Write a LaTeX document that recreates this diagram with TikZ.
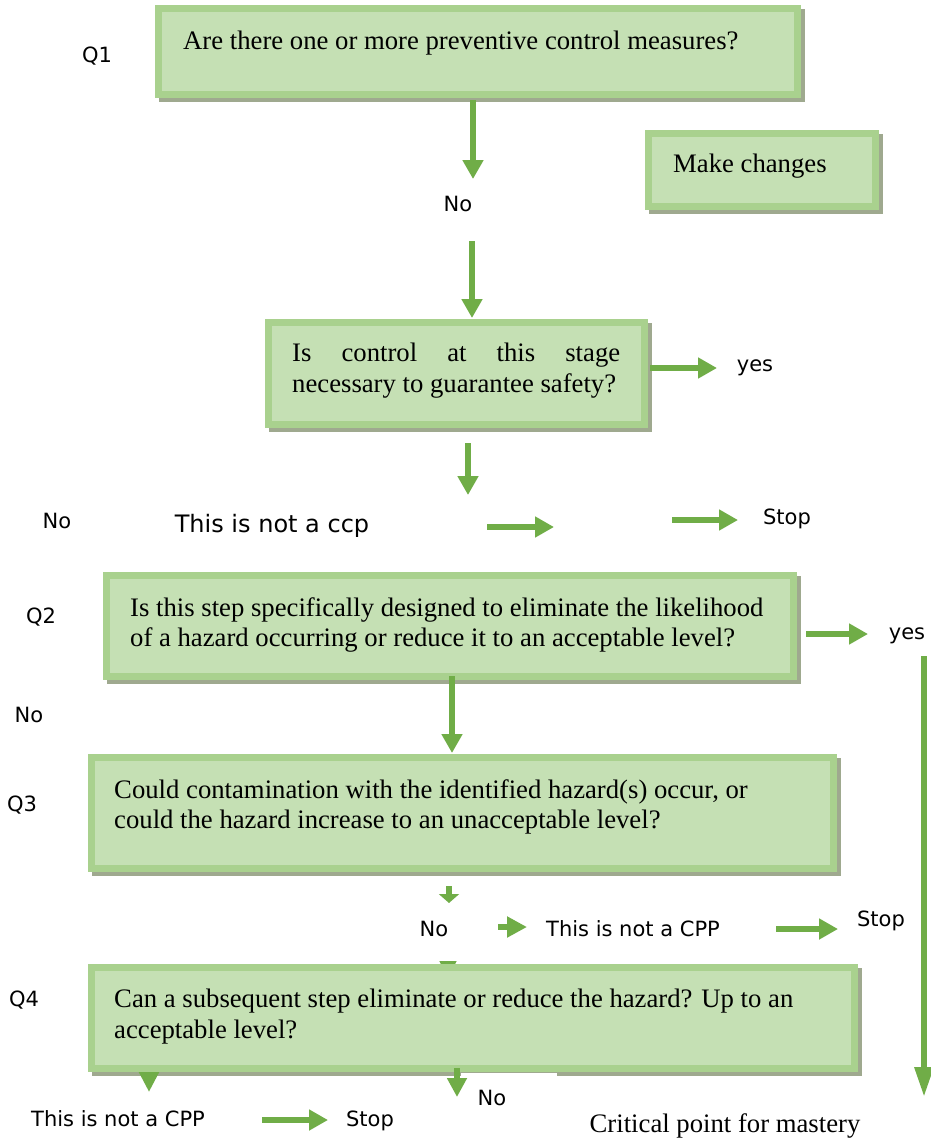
\documentclass[tikz,border=0pt]{standalone}
\usepackage{fontspec}
\setmainfont{Liberation Serif}
\newfontfamily\lblfont{DejaVu Sans}
\usetikzlibrary{arrows.meta,calc}
\definecolor{boxfill}{HTML}{C5E0B4}
\definecolor{boxline}{HTML}{A9D18E}
\definecolor{boxshadow}{HTML}{9FA98F}
\definecolor{arrowgreen}{HTML}{70AD47}
\tikzset{
  qbox/.style={rectangle, draw=boxline, fill=boxfill, line width=7pt, inner sep=0pt,
    preaction={draw=boxshadow, fill=boxshadow, line width=7pt,
      transform canvas={shift={(4pt,-4pt)}}}},
  qtext/.style={inner sep=0pt, align=left, font={\fontsize{26.7}{30.5}\selectfont}},
  lbl/.style={inner sep=0pt, font={\lblfont\fontsize{21}{25}\selectfont}},
  garrow/.style={draw=arrowgreen, line width=6.5pt, -{Triangle[width=20pt,length=19pt]}},
}
\begin{document}
\begin{tikzpicture}[x=1pt,y=-1pt]
\fill[white] (0,0) rectangle (931,1141);
\useasboundingbox (0,0) rectangle (931,1141);

% arrow head partly hidden behind the Q4 box
\coordinate (h1) at (448,961);
\coordinate (h2) at (448,979);
\draw[garrow, -{Triangle[width=16pt,length=18pt]}] (h1) -- (h2);

% boxes
\node[qbox, minimum width=639pt, minimum height=86pt] (b1) at (478,51.5) {};
\node[qbox, minimum width=227pt, minimum height=73pt] (b2) at (762,170) {};
\node[qbox, minimum width=376pt, minimum height=102pt] (b3) at (456.5,373.5) {};
\node[qbox, minimum width=687pt, minimum height=101pt] (b4) at (450,626) {};
\node[qbox, minimum width=742pt, minimum height=111pt] (b5) at (462.5,813) {};
\node[qbox, minimum width=763pt, minimum height=101pt] (b6) at (473,1018) {};
% gap in the Q4 shadow
\fill[white] (461,1072.5) rectangle (557,1079);

% box texts
\node[qtext, anchor=north west] (t1) at (183,31) {Are there one or more preventive control measures?};
\node[qtext, anchor=north west] (t2) at (673,154) {Make changes};
\node[qtext, anchor=north west] (t3) at (292,343) {\makebox[328pt][s]{Is control at this stage}\\necessary to guarantee safety?};
\node[qtext, anchor=north west] (t4) at (130,597) {Is this step specifically designed to eliminate the likelihood\\of a hazard occurring or reduce it to an acceptable level?};
\node[qtext, anchor=north west] (t5) at (114,779) {Could contamination with the identified hazard(s) occur, or\\could the hazard increase to an unacceptable level?};
\node[qtext, anchor=north west] (t6) at (114,989) {Can a subsequent step eliminate or reduce the hazard? Up to an\\acceptable level?};

% labels
\node[lbl, anchor=base] (q1) at (97,62) {Q1};
\node[lbl, anchor=base] (no1) at (458,211) {No};
\node[lbl, anchor=base] (yes1) at (755,371) {yes};
\node[lbl, anchor=base] (no2) at (57,528) {No};
\node[lbl, anchor=base, font={\lblfont\fontsize{24}{28}\selectfont}] (nc1) at (272,532) {This is not a ccp};
\node[lbl, anchor=base] (stop1) at (787,524) {Stop};
\node[lbl, anchor=base] (q2) at (41,623) {Q2};
\node[lbl, anchor=base] (yes2) at (907,639) {yes};
\node[lbl, anchor=base] (no3) at (29,722) {No};
\node[lbl, anchor=base] (q3) at (22,811) {Q3};
\node[lbl, anchor=base] (no4) at (434,936) {No};
\node[lbl, anchor=base] (nc2) at (633,936) {This is not a CPP};
\node[lbl, anchor=base] (stop2) at (881,926) {Stop};
\node[lbl, anchor=base] (q4) at (24,1006) {Q4};
\node[lbl, anchor=base] (no5) at (492,1105) {No};
\node[lbl, anchor=base] (nc3) at (118,1126) {This is not a CPP};
\node[lbl, anchor=base] (stop3) at (370,1126) {Stop};
\node[qtext, anchor=base] (crit) at (725,1132) {Critical point for mastery};

% arrow end points
\coordinate (a1s) at (473,100);  \coordinate (a1e) at (473,179);
\coordinate (a2s) at (472,241);  \coordinate (a2e) at (472,318);
\coordinate (a3s) at (650,368);  \coordinate (a3e) at (717,368);
\coordinate (a4s) at (468,443);  \coordinate (a4e) at (468,495);
\coordinate (a5s) at (487,527);  \coordinate (a5e) at (554,527);
\coordinate (a6s) at (672,520);  \coordinate (a6e) at (738,520);
\coordinate (a7s) at (806,634);  \coordinate (a7e) at (868,634);
\coordinate (a8s) at (924,656);  \coordinate (a8e) at (924,1097);
\coordinate (a9s) at (452,676);  \coordinate (a9e) at (452,753);
\coordinate (a10s) at (449,886); \coordinate (a10e) at (449,903);
\coordinate (a11s) at (498,927); \coordinate (a11e) at (527,927);
\coordinate (a12s) at (776,929); \coordinate (a12e) at (838,929);
\coordinate (a14s) at (149,1072); \coordinate (a14e) at (149,1092);
\coordinate (a15s) at (457,1068); \coordinate (a15e) at (457,1097);
\coordinate (a16s) at (262,1120); \coordinate (a16e) at (328,1120);

\draw[garrow] (a1s) -- (a1e);
\draw[garrow] (a2s) -- (a2e);
\draw[garrow] (a3s) -- (a3e);
\draw[garrow] (a4s) -- (a4e);
\draw[garrow] (a5s) -- (a5e);
\draw[garrow] (a6s) -- (a6e);
\draw[garrow] (a7s) -- (a7e);
\draw[garrow, line width=6pt, -{Triangle[width=18pt,length=30pt]}] (a8s) -- (a8e);
\draw[garrow] (a9s) -- (a9e);
\draw[garrow, -{Triangle[width=20pt,length=9pt]}] (a10s) -- (a10e);
\draw[garrow, -{Triangle[width=20pt,length=20pt]}] (a11s) -- (a11e);
\draw[garrow] (a12s) -- (a12e);
\draw[garrow, -{Triangle[width=19pt,length=20pt]}] (a14s) -- (a14e);
\draw[garrow, -{Triangle[width=19pt,length=19pt]}] (a15s) -- (a15e);
\draw[garrow] (a16s) -- (a16e);
\end{tikzpicture}
\end{document}
